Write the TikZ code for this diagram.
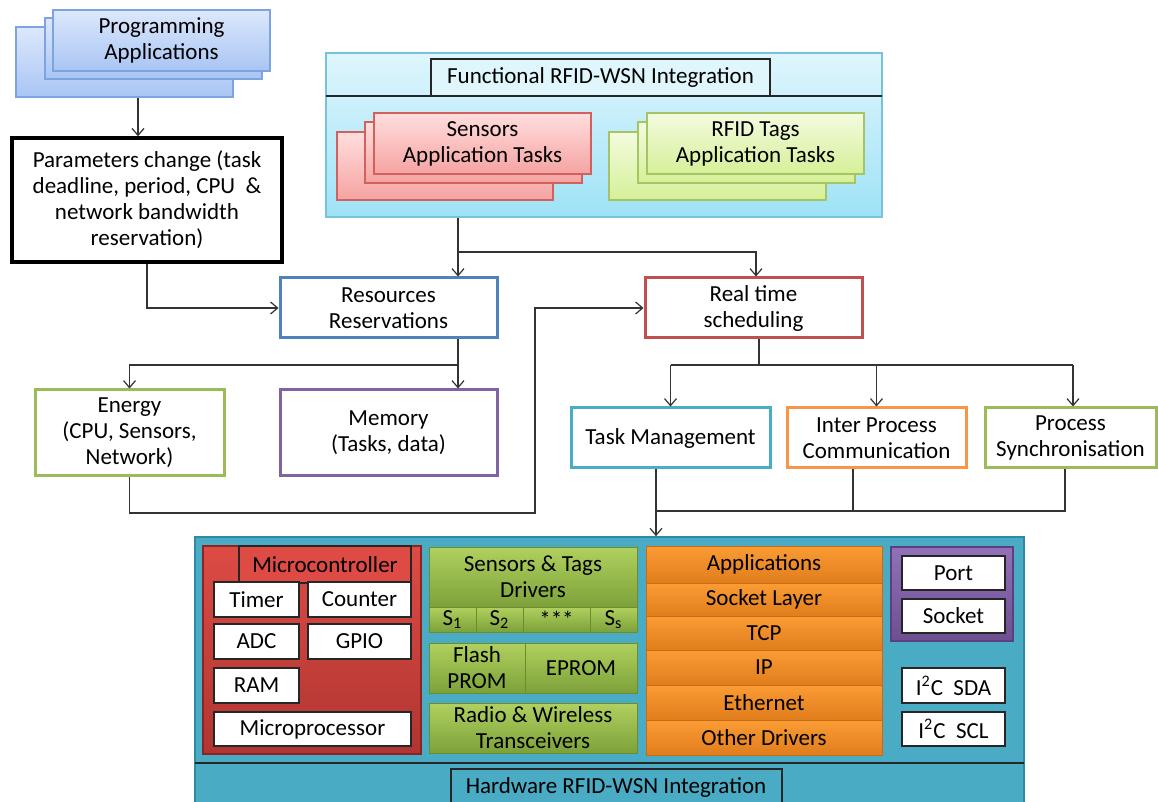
\documentclass[tikz,border=0pt]{standalone}
\usepackage{fontspec}
\setmainfont{Carlito}
\usetikzlibrary{arrows.meta}
\definecolor{progtop}{HTML}{DCE8FC}\definecolor{progbot}{HTML}{A9C5F4}\definecolor{progdraw}{HTML}{7DA4DE}
\definecolor{sentop}{HTML}{FFDEDE}\definecolor{senbot}{HTML}{F5A3A1}\definecolor{sendraw}{HTML}{D0615F}
\definecolor{rfidtop}{HTML}{F4FBDF}\definecolor{rfidbot}{HTML}{D5F098}\definecolor{rfiddraw}{HTML}{A5C465}
\definecolor{functop}{HTML}{DFF6FD}\definecolor{funcbot}{HTML}{9EE2F6}\definecolor{funcdraw}{HTML}{76C3DC}
\definecolor{blueb}{HTML}{4F81BD}\definecolor{redb}{HTML}{C0504D}\definecolor{greenb}{HTML}{9BBB59}
\definecolor{purpb}{HTML}{8064A2}\definecolor{tealb}{HTML}{4BACC6}\definecolor{orangeb}{HTML}{F79646}
\definecolor{hwfill}{HTML}{4AABC5}\definecolor{hwdraw}{HTML}{2E8AA3}
\definecolor{mctop}{HTML}{DD4B44}\definecolor{mcbot}{HTML}{B03532}\definecolor{mcdraw}{HTML}{8B2522}
\definecolor{grtop}{HTML}{B0D15F}\definecolor{grbot}{HTML}{7DA13A}\definecolor{grdraw}{HTML}{6E8C2E}
\definecolor{ortop}{HTML}{FB9C34}\definecolor{orbot}{HTML}{E07D1C}\definecolor{ordraw}{HTML}{C96A14}
\definecolor{pptop}{HTML}{9271B8}\definecolor{ppbot}{HTML}{6D4F90}\definecolor{ppdraw}{HTML}{5C3F80}
\newcommand\rbox[7][]{%
  \pgfmathsetmacro\rbcx{(#3+#5)/2}\pgfmathsetmacro\rbcy{(#4+#6)/2}%
  \pgfmathsetmacro\rbw{(#5-#3)/2}\pgfmathsetmacro\rbh{(#6-#4)/2}%
  \node[#1, minimum width=\rbw pt, minimum height=\rbh pt, inner sep=0pt, align=center] (#2) at (\rbcx,\rbcy) {#7};}
\begin{document}
\begin{tikzpicture}[x=0.5pt,y=-0.5pt, font=\fontsize{11.5}{13}\selectfont,
  conn/.style={draw=black!80, line width=0.6pt},
  arr/.style={conn, -{Straight Barb[length=3.5pt,width=6pt]}},
  prog/.style={draw=progdraw, line width=0.6pt, top color=progtop, bottom color=progbot},
  sens/.style={draw=sendraw, line width=0.6pt, top color=sentop, bottom color=senbot},
  rfid/.style={draw=rfiddraw, line width=0.6pt, top color=rfidtop, bottom color=rfidbot},
  ob/.style={draw=#1, line width=1.5pt, fill=white},
  wb/.style={draw=black!85, line width=0.6pt, fill=white},
  grb/.style={draw=grdraw, line width=0.5pt, top color=grtop, bottom color=grbot},
  orb/.style={draw=ordraw, line width=0.3pt, top color=ortop, bottom color=orbot}]
\clip (0,0) rectangle (1158,802);
\fill[white] (0,0) rectangle (1158,802);
% Programming applications
\rbox[prog]{progA}{16}{27}{233}{97}{}
\rbox[prog]{progB}{45}{18}{262}{79}{}
\rbox[prog]{progC}{53}{10}{270}{71}{Programming\\Applications}
\rbox[draw=black, line width=1.7pt, fill=white]{param}{12}{138}{282}{262}{Parameters change (task\\deadline, period, CPU~~\&\\network bandwidth\\reservation)}
% Functional
\rbox[draw=funcdraw, line width=0.6pt, top color=functop, bottom color=funcbot]{func}{326}{53}{882}{217}{}
\draw[black!85, line width=0.6pt] (326,96) -- (882,96);
\rbox[draw=black!85, line width=0.6pt, fill=functop]{ftitle}{431}{59}{770}{96}{Functional RFID-WSN Integration}
\rbox[sens]{senA}{337}{132}{553}{200}{}
\rbox[sens]{senB}{365}{122}{582}{183}{}
\rbox[sens]{senC}{374}{113}{591}{174}{Sensors\\Application Tasks}
\rbox[rfid]{rfA}{609}{132}{826}{200}{}
\rbox[rfid]{rfB}{638}{122}{855}{183}{}
\rbox[rfid]{rfC}{647}{113}{864}{174}{RFID Tags\\Application Tasks}
% middle
\rbox[ob=blueb]{res}{280}{278}{497}{338}{Resources\\Reservations}
\rbox[ob=redb]{rts}{645}{278}{862}{338}{Real time\\scheduling}
\rbox[ob=greenb]{energy}{35}{390}{224}{476}{Energy\\(CPU, Sensors,\\Network)}
\rbox[ob=purpb]{mem}{280}{390}{497}{476}{Memory\\(Tasks, data)}
\rbox[ob=tealb]{task}{571}{408}{770}{468}{Task Management}
\rbox[ob=orangeb]{ipc}{787}{408}{966}{468}{Inter Process\\Communication}
\rbox[ob=greenb]{psync}{985}{408}{1156}{468}{Process\\Synchronisation}
% Hardware
\rbox[draw=hwdraw, line width=0.8pt, fill=hwfill]{hw}{195}{537}{1024}{815}{}
\draw[black!85, line width=0.6pt] (195,763) -- (1024,763);
\rbox[draw=black!85, line width=0.6pt, fill=hwfill]{hwtitle}{451}{769}{782}{815}{}
\node at (616,787) {Hardware RFID-WSN Integration};
% microcontroller
\rbox[draw=mcdraw, line width=0.8pt, top color=mctop, bottom color=mcbot]{mc}{203}{546}{421}{754}{}
\rbox[draw=black!85, line width=0.6pt, fill=mctop]{mctab}{239}{546}{411}{583}{Microcontroller}
\rbox[wb]{timer}{214}{582}{299}{617}{Timer}
\rbox[wb]{counter}{308}{582}{411}{617}{Counter}
\rbox[wb]{adc}{214}{624}{299}{659}{ADC}
\rbox[wb]{gpio}{308}{624}{411}{659}{GPIO}
\rbox[wb]{ram}{214}{668}{299}{703}{RAM}
\rbox[wb]{mproc}{214}{712}{411}{746}{Microprocessor}
% green
\rbox[grb]{drv}{429}{547}{637}{607}{Sensors \& Tags\\Drivers}
\rbox[grb]{sa}{429}{607}{476}{632}{S\textsubscript{1}}
\rbox[grb]{sb}{476}{607}{523}{632}{S\textsubscript{2}}
\rbox[grb]{sc}{523}{607}{590}{632}{***}
\rbox[grb]{sd}{590}{607}{637}{632}{S\textsubscript{s}}
\rbox[grb]{flash}{429}{643}{525}{693}{Flash\\PROM}
\rbox[grb]{eprom}{525}{643}{637}{693}{EPROM}
\rbox[grb]{radio}{429}{703}{637}{753}{Radio \& Wireless\\Transceivers}
% orange
\rbox[orb]{oapp}{646}{546}{882}{583}{Applications}
\rbox[orb]{osock}{646}{583}{882}{616}{Socket Layer}
\rbox[orb]{otcp}{646}{616}{882}{650}{TCP}
\rbox[orb]{oip}{646}{650}{882}{685}{IP}
\rbox[orb]{oeth}{646}{685}{882}{720}{Ethernet}
\rbox[orb]{oodr}{646}{720}{882}{755}{Other Drivers}
% purple
\rbox[draw=ppdraw, line width=0.8pt, top color=pptop, bottom color=ppbot]{pp}{891}{547}{1013}{641}{}
\rbox[wb]{port}{902}{556}{1005}{590}{Port}
\rbox[wb]{sock}{902}{599}{1005}{633}{Socket}
\rbox[wb]{sda}{902}{668}{1005}{703}{I\textsuperscript{2}C~~SDA}
\rbox[wb]{scl}{902}{712}{1005}{746}{I\textsuperscript{2}C~~SCL}
% connectors
\coordinate (pa) at (138,0);
\draw[arr] (progA.south -| pa) -- (param.north -| pa);
\draw[arr] (param.south) |- (res.west);
\coordinate (fx) at (458,252);
\coordinate (rx) at (756,252);
\draw[arr] (func.south -| fx) -- (res.north -| fx);
\draw[arr] (fx) -| (rts.north -| rx);
\coordinate (mx) at (458,365);
\draw[arr] (res.south -| mx) -- (mem.north -| mx);
\draw[arr] (mx) -| (energy.north);
\coordinate (bl) at (535,513);
\draw[arr] (energy.south) |- (bl) |- (rts.west);
\draw[conn] (mem.south -| mx) -- (mem.south -| mx |- bl);
\coordinate (sx) at (759,365);
\coordinate (px) at (1073,365);
\draw[conn] (rts.south -| sx) -- (sx);
\draw[conn] (sx -| task.north) -- (px);
\draw[arr] (sx -| task.north) -- (task.north);
\draw[arr] (sx -| ipc.north) -- (ipc.north);
\draw[arr] (px) -- (psync.north -| px);
\coordinate (tx) at (656,511);
\coordinate (ix) at (853,511);
\coordinate (qx) at (1065,511);
\draw[arr] (task.south -| tx) -- (hw.north -| tx);
\draw[conn] (ipc.south -| ix) -- (ix);
\draw[conn] (psync.south -| qx) -- (qx) -- (tx);
\end{tikzpicture}
\end{document}
